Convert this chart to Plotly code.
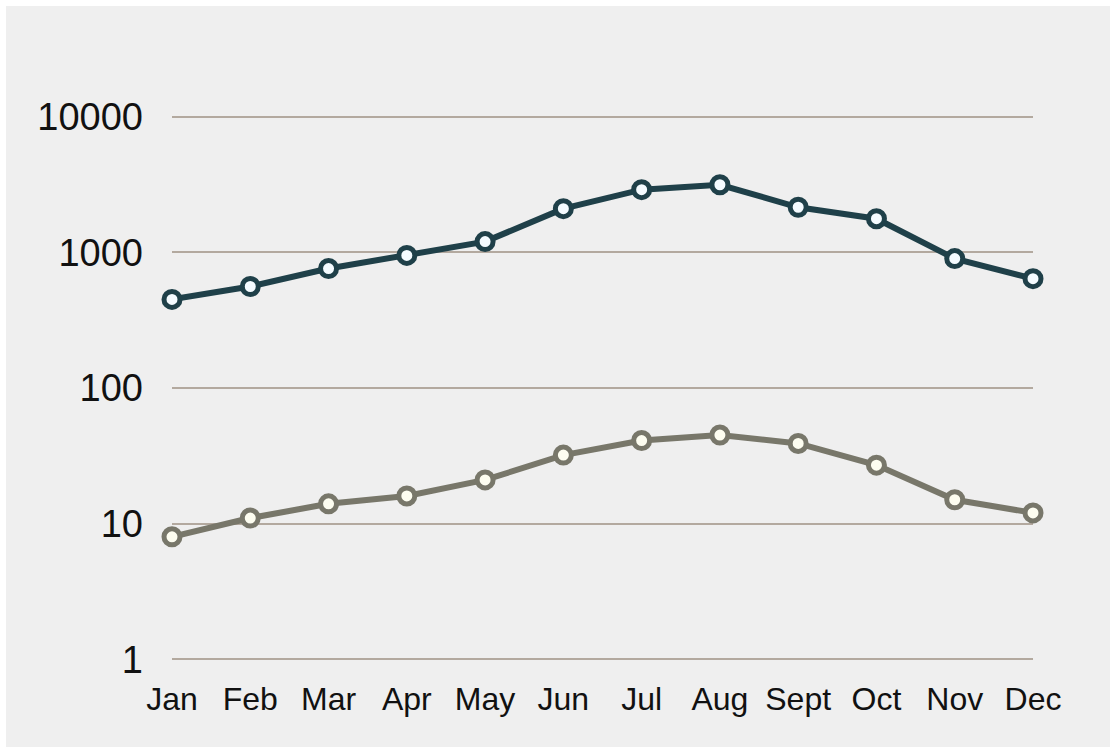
import plotly.graph_objects as go

months = ["Jan", "Feb", "Mar", "Apr", "May", "Jun", "Jul", "Aug", "Sept", "Oct", "Nov", "Dec"]
series_top = [450, 560, 760, 950, 1200, 2100, 2900, 3150, 2150, 1770, 900, 640]
series_bottom = [8, 11, 14, 16, 21, 32, 41, 45, 39, 27, 15, 12]
y_tickvals = [1, 10, 100, 1000, 10000]
y_ticktext = ["1", "10", "100", "1000", "10000"]

x_idx = list(range(len(months)))

fig = go.Figure()
fig.add_trace(go.Scatter(
    x=x_idx, y=series_top, mode="lines+markers",
    line=dict(color="#1f4049", width=6),
    marker=dict(size=16, color="#f4fbff", line=dict(color="#1f4049", width=5)),
    cliponaxis=False, showlegend=False,
))
fig.add_trace(go.Scatter(
    x=x_idx, y=series_bottom, mode="lines+markers",
    line=dict(color="#78776a", width=6),
    marker=dict(size=16, color="#fdfdf0", line=dict(color="#78776a", width=5)),
    cliponaxis=False, showlegend=False,
))

fig.update_layout(
    width=1116, height=753,
    margin=dict(l=172, r=83, t=114, b=91),
    paper_bgcolor="#efefef", plot_bgcolor="#efefef",
    font=dict(family="Liberation Sans, Arial, sans-serif", color="#111111"),
    xaxis=dict(
        range=[0, 11], tickvals=x_idx, ticktext=months,
        showgrid=False, zeroline=False, showline=False, ticks="",
        tickfont=dict(size=32), ticklabelstandoff=15,
    ),
    yaxis=dict(
        type="log", range=[-0.02, 4.02], tickvals=y_tickvals, ticktext=y_ticktext,
        showgrid=True, gridcolor="#b3a99f", gridwidth=1.5,
        zeroline=False, showline=False, ticks="",
        tickfont=dict(size=38), ticklabelstandoff=28,
    ),
    shapes=[
        dict(type="rect", xref="paper", yref="paper",
             x0=-172/861, x1=1 + 83/861, y0=-91/548, y1=1 + 114/548,
             line=dict(color="white", width=12), fillcolor="rgba(0,0,0,0)", layer="above"),
    ],
)

fig.write_html("out.html")
